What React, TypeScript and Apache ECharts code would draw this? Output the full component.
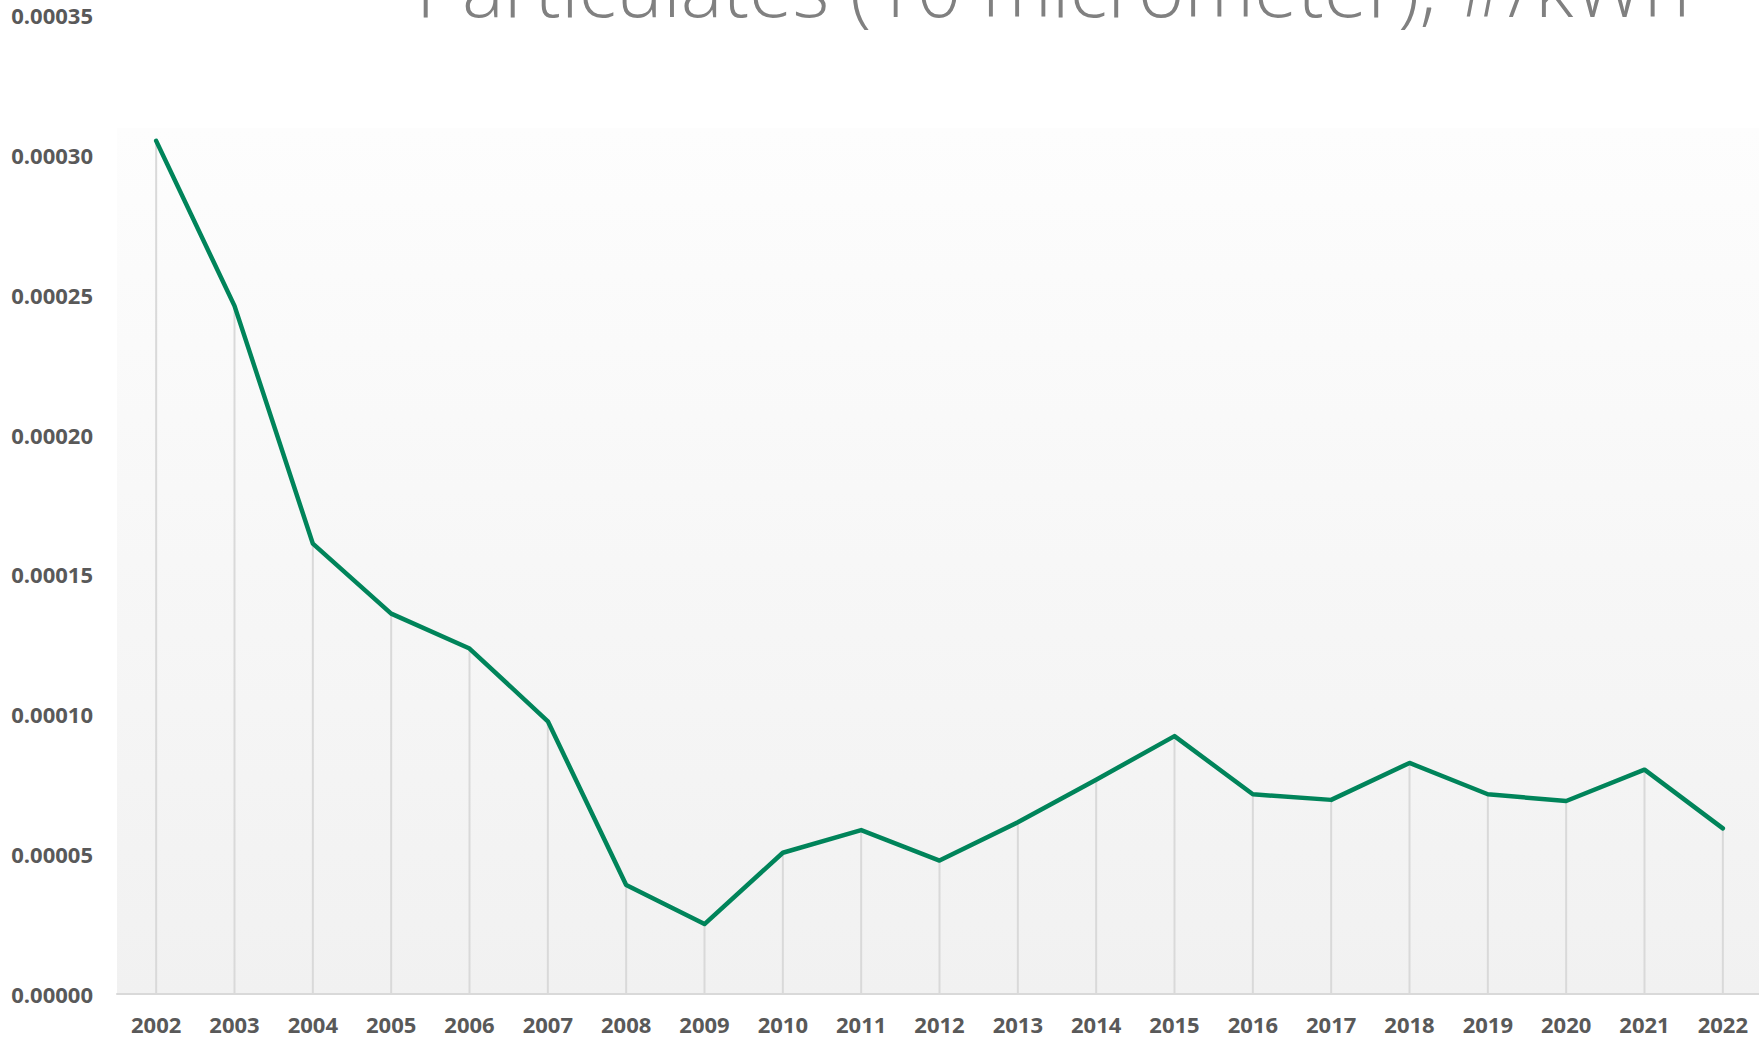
import React, { useEffect, useRef } from "react";
import * as echarts from "echarts";

const years = ["2002","2003","2004","2005","2006","2007","2008","2009","2010","2011","2012","2013","2014","2015","2016","2017","2018","2019","2020","2021","2022"];
const values = [0.000305, 0.000246, 0.000161, 0.000136, 0.0001235, 0.0000975, 0.000039, 0.000025, 0.0000505, 0.0000586, 0.0000477, 0.0000614, 0.0000766, 0.0000922, 0.0000714, 0.0000694, 0.0000826, 0.0000714, 0.000069, 0.0000802, 0.0000592];
const titleText = "Particulates (10 micrometer), #/kWh";
const yMin = 0;
const yMax = 0.00035;
const yInterval = 0.00005;

export default function App() {
  const ref = useRef<HTMLDivElement>(null);
  useEffect(() => {
    if (!ref.current) return;
    const chart = echarts.init(ref.current, undefined, { renderer: "svg" });
    const labelFont = "'Open Sans', 'Noto Sans', sans-serif";
    chart.setOption({
      animation: false,
      backgroundColor: "#ffffff",
      graphic: [
        {
          type: "rect",
          z: -10,
          silent: true,
          shape: { x: 117, y: 128, width: 1660, height: 866 },
          style: {
            fill: new echarts.graphic.LinearGradient(0, 0, 0, 1, [
              { offset: 0, color: "#fdfdfd" },
              { offset: 1, color: "#f1f1f1" },
            ]),
          },
        },
        {
          type: "text",
          x: 1053,
          y: -14,
          silent: true,
          style: {
            text: titleText,
            fill: "#808080",
            font: "300 79px 'Open Sans', 'Noto Sans', sans-serif",
            align: "center",
            verticalAlign: "middle",
          },
        },
      ],
      grid: { left: 117, right: 3, top: 15, bottom: 43, containLabel: false },
      xAxis: {
        type: "category",
        data: years,
        boundaryGap: true,
        axisLine: { show: true, lineStyle: { color: "#d9d9d9", width: 2 } },
        axisTick: { show: false },
        splitLine: { show: false },
        axisLabel: {
          color: "#595959",
          fontFamily: labelFont,
          fontWeight: "bold",
          fontSize: 22,
          margin: 19,
          interval: 0,
        },
      },
      yAxis: {
        type: "value",
        min: yMin,
        max: yMax,
        interval: yInterval,
        axisLine: { show: false },
        axisTick: { show: false },
        splitLine: { show: false },
        axisLabel: {
          color: "#595959",
          fontFamily: labelFont,
          fontWeight: "bold",
          fontSize: 22,
          margin: 24,
          formatter: (v: number) => v.toFixed(5),
        },
      },
      series: [
        {
          type: "bar",
          data: values,
          barWidth: 2,
          itemStyle: { color: "#d9d9d9" },
          silent: true,
          z: 1,
        },
        {
          type: "line",
          data: values,
          showSymbol: false,
          symbol: "none",
          lineStyle: { color: "#00845a", width: 4.5, join: "round", cap: "round" },
          z: 3,
        },
      ],
    });
    return () => chart.dispose();
  }, []);
  return (
    <div style={{ position: "fixed", left: 0, top: 0, width: 1759, height: 1037, overflow: "hidden", background: "#fff" }}>
      <div ref={ref} style={{ width: 1765, height: 1037 }} />
    </div>
  );
}
